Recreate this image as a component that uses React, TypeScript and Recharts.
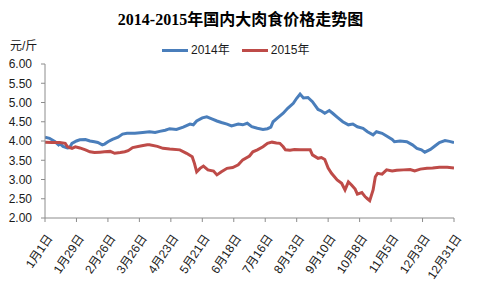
import React from 'react';
import { LineChart, Line, XAxis, YAxis } from 'recharts';

const tickDays = [0, 28, 56, 84, 112, 140, 168, 196, 224, 252, 280, 308, 336, 364];
const tickLabels = ['1月1日', '1月29日', '2月26日', '3月26日', '4月23日', '5月21日', '6月18日', '7月16日', '8月13日', '9月10日', '10月8日', '11月5日', '12月3日', '12月31日'];
const yTicks = [2, 2.5, 3, 3.5, 4, 4.5, 5, 5.5, 6];

const days2014 = [0, 4, 9, 12, 13, 16, 20, 22, 24, 28, 31, 36, 40, 44, 47, 51, 53, 56, 60, 65, 69, 73, 80, 87, 93, 98, 102, 107, 111, 117, 123, 129, 132, 135, 140, 144, 149, 153, 157, 162, 166, 172, 176, 180, 184, 189, 194, 198, 201, 203, 207, 212, 216, 221, 224, 227, 230, 234, 238, 243, 246, 249, 253, 256, 260, 265, 270, 274, 278, 283, 287, 292, 295, 300, 304, 309, 311, 316, 322, 327, 331, 335, 338, 343, 347, 351, 356, 360, 364];
const price2014 = [4.10, 4.07, 3.98, 3.90, 3.94, 3.86, 3.82, 3.83, 3.94, 4.00, 4.03, 4.04, 4.00, 3.98, 3.96, 3.90, 3.92, 3.98, 4.04, 4.10, 4.18, 4.20, 4.20, 4.22, 4.24, 4.22, 4.25, 4.28, 4.32, 4.30, 4.36, 4.44, 4.42, 4.52, 4.60, 4.63, 4.57, 4.52, 4.48, 4.44, 4.39, 4.44, 4.42, 4.46, 4.37, 4.33, 4.30, 4.32, 4.36, 4.50, 4.60, 4.72, 4.85, 4.98, 5.11, 5.22, 5.12, 5.13, 5.02, 4.82, 4.78, 4.72, 4.79, 4.72, 4.62, 4.50, 4.42, 4.44, 4.37, 4.33, 4.24, 4.16, 4.24, 4.20, 4.13, 4.04, 3.98, 4.00, 3.98, 3.90, 3.81, 3.77, 3.71, 3.78, 3.87, 3.96, 4.01, 3.99, 3.96];

const days2015 = [0, 6, 13, 18, 20, 24, 27, 31, 36, 40, 44, 49, 53, 58, 62, 67, 71, 74, 78, 85, 91, 93, 100, 105, 111, 120, 126, 131, 133, 135, 138, 141, 145, 150, 153, 157, 162, 167, 172, 176, 182, 185, 189, 194, 198, 202, 206, 209, 212, 214, 218, 222, 227, 236, 238, 243, 246, 249, 252, 255, 260, 264, 267, 270, 273, 276, 278, 282, 285, 287, 289, 292, 294, 296, 300, 304, 309, 313, 319, 325, 329, 334, 340, 345, 351, 358, 364];
const price2015 = [3.97, 3.96, 3.96, 3.94, 3.85, 3.81, 3.85, 3.82, 3.77, 3.72, 3.70, 3.71, 3.72, 3.73, 3.68, 3.70, 3.72, 3.75, 3.83, 3.87, 3.90, 3.90, 3.86, 3.81, 3.79, 3.77, 3.68, 3.59, 3.42, 3.20, 3.29, 3.35, 3.25, 3.22, 3.12, 3.20, 3.29, 3.31, 3.38, 3.51, 3.61, 3.72, 3.77, 3.85, 3.94, 3.97, 3.95, 3.94, 3.85, 3.77, 3.76, 3.78, 3.77, 3.77, 3.64, 3.55, 3.57, 3.52, 3.30, 3.16, 2.99, 2.90, 2.73, 2.94, 2.85, 2.75, 2.62, 2.66, 2.55, 2.50, 2.45, 2.73, 3.07, 3.16, 3.14, 3.25, 3.22, 3.24, 3.25, 3.26, 3.22, 3.27, 3.29, 3.30, 3.32, 3.32, 3.30];

const data2014 = days2014.map((d, i) => ({ day: d, price: price2014[i] }));
const data2015 = days2015.map((d, i) => ({ day: d, price: price2015[i] }));

const BLUE = '#4A7EBB';
const RED = '#BE4B48';
const TEXT = '#1a1a1a';
const AXIS = '#8c8c8c';
const FONT = "'Liberation Sans', 'Noto Sans CJK SC', sans-serif";

const XTick = (props: any) => {
  const { x, y, payload } = props;
  const idx = tickDays.indexOf(payload.value);
  const label = idx >= 0 ? tickLabels[idx] : '';
  const px = x + 8;
  const py = y + 14;
  return (
    <text x={px} y={py} transform={`rotate(-56, ${px}, ${py})`} textAnchor="end" fontSize={12} fill={TEXT} fontFamily={FONT}>
      {label}
    </text>
  );
};

export default function App() {
  return (
    <div style={{ position: 'absolute', left: 0, top: 0, width: 481, height: 288, background: '#fff', fontFamily: FONT }}>
      <div style={{ position: 'absolute', left: 0, top: 10, width: 481, textAlign: 'center', fontSize: 16, fontWeight: 'bold', color: '#000', fontFamily: "'Liberation Serif', 'Noto Sans CJK SC', serif", lineHeight: '20px' }}>
        2014-2015年国内大肉食价格走势图
      </div>
      <div style={{ position: 'absolute', left: 10, top: 38, fontSize: 12, color: TEXT, lineHeight: '16px' }}>元/斤</div>
      <div style={{ position: 'absolute', left: 162, top: 42, display: 'flex', alignItems: 'center', fontSize: 12, color: TEXT, lineHeight: '16px' }}>
        <span style={{ display: 'inline-block', width: 26, height: 3, background: BLUE, marginRight: 3 }} />
        <span>2014年</span>
        <span style={{ display: 'inline-block', width: 26, height: 3, background: RED, marginLeft: 12, marginRight: 3 }} />
        <span>2015年</span>
      </div>
      <div style={{ position: 'absolute', left: 0, top: 0 }}>
        <LineChart width={481} height={288} margin={{ top: 64, right: 27, left: 0, bottom: 0 }}>
          <XAxis
            type="number"
            dataKey="day"
            domain={[0, 364]}
            ticks={tickDays}
            interval={0}
            height={70}
            tick={<XTick />}
            tickSize={4}
            tickMargin={2}
            stroke={AXIS}
            allowDataOverflow
          />
          <YAxis
            type="number"
            domain={[2, 6]}
            ticks={yTicks}
            width={45}
            tickSize={4}
            tickMargin={9}
            stroke={AXIS}
            tick={{ fill: TEXT, fontSize: 12, fontFamily: FONT }}
            tickFormatter={(v: number) => v.toFixed(2)}
            interval={0}
          />
          <Line data={data2014} dataKey="price" type="linear" stroke={BLUE} strokeWidth={3} dot={false} isAnimationActive={false} />
          <Line data={data2015} dataKey="price" type="linear" stroke={RED} strokeWidth={3} dot={false} isAnimationActive={false} />
        </LineChart>
      </div>
    </div>
  );
}
